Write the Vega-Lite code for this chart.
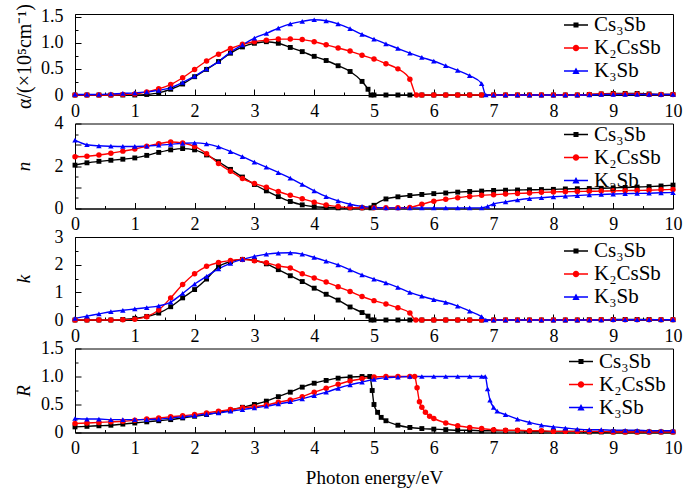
{
"$schema": "https://vega.github.io/schema/vega-lite/v6.json",
"autosize": {"type": "none"},
"padding": {"left": 75, "top": 14, "right": 608, "bottom": 480},
"background": "white",
"spacing": 28.5,
"bounds": "flush",
"resolve": {"legend": {"color": "independent", "shape": "independent"}},
"config": {
  "view": {"stroke": "black", "strokeWidth": 1},
  "axis": {"domainColor": "black", "tickColor": "black", "labelColor": "black", "labelFont": "Liberation Serif", "labelFontSize": 18, "titleFont": "Liberation Serif", "titleFontSize": 19, "titleFontWeight": "normal", "titleColor": "black", "grid": false, "labelFlush": false, "labelOverlap": false, "tickWidth": 1, "domainWidth": 1},
  "legend": {"orient": "none", "legendX": 489, "legendY": -1, "title": null, "labelFont": "Liberation Serif", "labelFontSize": 21, "labelColor": "black", "symbolSize": 576, "symbolOpacity": 1, "symbolStrokeWidth": 0, "rowPadding": 1, "labelOffset": 6, "padding": 0}
},
"datasets": {
"alpha": [
{"x":0,"Cs3Sb":0,"K2CsSb":0,"K3Sb":0.01},{"x":0.2,"Cs3Sb":0,"K2CsSb":0,"K3Sb":0.01},{"x":0.4,"Cs3Sb":0,"K2CsSb":0,"K3Sb":0.01},{"x":0.6,"Cs3Sb":0,"K2CsSb":0,"K3Sb":0.02},{"x":0.8,"Cs3Sb":0,"K2CsSb":0.01,"K3Sb":0.03},{"x":1.0,"Cs3Sb":0,"K2CsSb":0.02,"K3Sb":0.04},{"x":1.2,"Cs3Sb":0.01,"K2CsSb":0.06,"K3Sb":0.06},{"x":1.4,"Cs3Sb":0.04,"K2CsSb":0.12,"K3Sb":0.09},{"x":1.6,"Cs3Sb":0.11,"K2CsSb":0.2,"K3Sb":0.14},{"x":1.8,"Cs3Sb":0.21,"K2CsSb":0.33,"K3Sb":0.24},{"x":2.0,"Cs3Sb":0.35,"K2CsSb":0.49,"K3Sb":0.36},{"x":2.2,"Cs3Sb":0.49,"K2CsSb":0.65,"K3Sb":0.5},{"x":2.4,"Cs3Sb":0.64,"K2CsSb":0.78,"K3Sb":0.64},{"x":2.6,"Cs3Sb":0.8,"K2CsSb":0.89,"K3Sb":0.82},{"x":2.8,"Cs3Sb":0.92,"K2CsSb":0.97,"K3Sb":0.96},{"x":3.0,"Cs3Sb":0.99,"K2CsSb":1.02,"K3Sb":1.09},{"x":3.2,"Cs3Sb":1.02,"K2CsSb":1.05,"K3Sb":1.18},{"x":3.4,"Cs3Sb":0.99,"K2CsSb":1.07,"K3Sb":1.28},{"x":3.6,"Cs3Sb":0.91,"K2CsSb":1.07,"K3Sb":1.36},{"x":3.8,"Cs3Sb":0.83,"K2CsSb":1.06,"K3Sb":1.41},{"x":4.0,"Cs3Sb":0.74,"K2CsSb":1.02,"K3Sb":1.44},{"x":4.2,"Cs3Sb":0.66,"K2CsSb":0.96,"K3Sb":1.42},{"x":4.4,"Cs3Sb":0.56,"K2CsSb":0.9,"K3Sb":1.36},{"x":4.6,"Cs3Sb":0.45,"K2CsSb":0.84,"K3Sb":1.27},{"x":4.8,"Cs3Sb":0.26,"K2CsSb":0.76,"K3Sb":1.16},{"x":4.9,"Cs3Sb":0.11},{"x":4.95,"Cs3Sb":0},{"x":5.0,"Cs3Sb":0,"K2CsSb":0.69,"K3Sb":1.07},{"x":5.2,"Cs3Sb":0,"K2CsSb":0.6,"K3Sb":0.98},{"x":5.4,"Cs3Sb":0,"K2CsSb":0.5,"K3Sb":0.89},{"x":5.6,"Cs3Sb":0,"K2CsSb":0.3,"K3Sb":0.8},{"x":5.71,"K2CsSb":0},{"x":5.8,"Cs3Sb":0,"K2CsSb":0,"K3Sb":0.72},{"x":6.0,"Cs3Sb":0,"K2CsSb":0,"K3Sb":0.65},{"x":6.2,"Cs3Sb":0,"K2CsSb":0,"K3Sb":0.56},{"x":6.4,"Cs3Sb":0,"K2CsSb":0,"K3Sb":0.47},{"x":6.6,"Cs3Sb":0,"K2CsSb":0,"K3Sb":0.37},{"x":6.8,"Cs3Sb":0,"K2CsSb":0,"K3Sb":0.22},{"x":6.87,"K3Sb":0},{"x":7.0,"Cs3Sb":0,"K2CsSb":0,"K3Sb":0},{"x":7.2,"Cs3Sb":0,"K2CsSb":0,"K3Sb":0},{"x":7.4,"Cs3Sb":0,"K2CsSb":0,"K3Sb":0},{"x":7.6,"Cs3Sb":0,"K2CsSb":0,"K3Sb":0},{"x":7.8,"Cs3Sb":0,"K2CsSb":0,"K3Sb":0},{"x":8.0,"Cs3Sb":0,"K2CsSb":0,"K3Sb":0},{"x":8.2,"Cs3Sb":0,"K2CsSb":0,"K3Sb":0},{"x":8.4,"Cs3Sb":0,"K2CsSb":0,"K3Sb":0},{"x":8.6,"Cs3Sb":0.01,"K2CsSb":0.01,"K3Sb":0},{"x":8.8,"Cs3Sb":0.02,"K2CsSb":0.02,"K3Sb":0.01},{"x":9.0,"Cs3Sb":0.03,"K2CsSb":0.02,"K3Sb":0.01},{"x":9.2,"Cs3Sb":0.03,"K2CsSb":0.02,"K3Sb":0.01},{"x":9.4,"Cs3Sb":0.03,"K2CsSb":0.02,"K3Sb":0.01},{"x":9.6,"Cs3Sb":0.02,"K2CsSb":0.01,"K3Sb":0.01},{"x":9.8,"Cs3Sb":0.01,"K2CsSb":0.01,"K3Sb":0.01},{"x":10,"Cs3Sb":0.01,"K2CsSb":0.01,"K3Sb":0.01}
],
"n": [
{"x":0,"Cs3Sb":2.04,"K2CsSb":2.43,"K3Sb":3.22},{"x":0.2,"Cs3Sb":2.15,"K2CsSb":2.46,"K3Sb":3.0},{"x":0.4,"Cs3Sb":2.22,"K2CsSb":2.52,"K3Sb":2.95},{"x":0.6,"Cs3Sb":2.27,"K2CsSb":2.6,"K3Sb":2.93},{"x":0.8,"Cs3Sb":2.32,"K2CsSb":2.7,"K3Sb":2.92},{"x":1.0,"Cs3Sb":2.38,"K2CsSb":2.8,"K3Sb":2.92},{"x":1.2,"Cs3Sb":2.5,"K2CsSb":2.93,"K3Sb":2.94},{"x":1.4,"Cs3Sb":2.64,"K2CsSb":3.05,"K3Sb":2.98},{"x":1.6,"Cs3Sb":2.76,"K2CsSb":3.13,"K3Sb":3.02},{"x":1.8,"Cs3Sb":2.82,"K2CsSb":3.08,"K3Sb":3.07},{"x":2.0,"Cs3Sb":2.76,"K2CsSb":2.92,"K3Sb":3.09},{"x":2.2,"Cs3Sb":2.52,"K2CsSb":2.58,"K3Sb":3.04},{"x":2.4,"Cs3Sb":2.2,"K2CsSb":2.12,"K3Sb":2.9},{"x":2.6,"Cs3Sb":1.84,"K2CsSb":1.75,"K3Sb":2.68},{"x":2.8,"Cs3Sb":1.48,"K2CsSb":1.41,"K3Sb":2.44},{"x":3.0,"Cs3Sb":1.13,"K2CsSb":1.18,"K3Sb":2.18},{"x":3.2,"Cs3Sb":0.83,"K2CsSb":1.0,"K3Sb":1.95},{"x":3.4,"Cs3Sb":0.56,"K2CsSb":0.8,"K3Sb":1.69},{"x":3.6,"Cs3Sb":0.33,"K2CsSb":0.62,"K3Sb":1.43},{"x":3.8,"Cs3Sb":0.17,"K2CsSb":0.46,"K3Sb":1.13},{"x":4.0,"Cs3Sb":0.08,"K2CsSb":0.3,"K3Sb":0.83},{"x":4.2,"Cs3Sb":0.05,"K2CsSb":0.17,"K3Sb":0.56},{"x":4.4,"Cs3Sb":0.03,"K2CsSb":0.09,"K3Sb":0.36},{"x":4.6,"Cs3Sb":0.03,"K2CsSb":0.05,"K3Sb":0.2},{"x":4.8,"Cs3Sb":0.03,"K2CsSb":0.03,"K3Sb":0.1},{"x":4.95,"Cs3Sb":0.03},{"x":5.0,"Cs3Sb":0.15,"K2CsSb":0.03,"K3Sb":0.05},{"x":5.2,"Cs3Sb":0.45,"K2CsSb":0.03,"K3Sb":0.03},{"x":5.4,"Cs3Sb":0.55,"K2CsSb":0.03,"K3Sb":0.03},{"x":5.6,"Cs3Sb":0.61,"K2CsSb":0.05,"K3Sb":0.03},{"x":5.8,"Cs3Sb":0.66,"K2CsSb":0.2,"K3Sb":0.03},{"x":6.0,"Cs3Sb":0.7,"K2CsSb":0.34,"K3Sb":0.03},{"x":6.2,"Cs3Sb":0.73,"K2CsSb":0.43,"K3Sb":0.03},{"x":6.4,"Cs3Sb":0.77,"K2CsSb":0.51,"K3Sb":0.03},{"x":6.6,"Cs3Sb":0.8,"K2CsSb":0.57,"K3Sb":0.03},{"x":6.8,"Cs3Sb":0.82,"K2CsSb":0.62,"K3Sb":0.03},{"x":6.9,"K3Sb":0.1},{"x":7.0,"Cs3Sb":0.85,"K2CsSb":0.65,"K3Sb":0.22},{"x":7.2,"Cs3Sb":0.86,"K2CsSb":0.68,"K3Sb":0.31},{"x":7.4,"Cs3Sb":0.87,"K2CsSb":0.71,"K3Sb":0.4},{"x":7.6,"Cs3Sb":0.88,"K2CsSb":0.73,"K3Sb":0.47},{"x":7.8,"Cs3Sb":0.89,"K2CsSb":0.76,"K3Sb":0.51},{"x":8.0,"Cs3Sb":0.9,"K2CsSb":0.78,"K3Sb":0.55},{"x":8.2,"Cs3Sb":0.92,"K2CsSb":0.79,"K3Sb":0.58},{"x":8.4,"Cs3Sb":0.93,"K2CsSb":0.8,"K3Sb":0.61},{"x":8.6,"Cs3Sb":0.94,"K2CsSb":0.81,"K3Sb":0.64},{"x":8.8,"Cs3Sb":0.95,"K2CsSb":0.82,"K3Sb":0.66},{"x":9.0,"Cs3Sb":0.97,"K2CsSb":0.83,"K3Sb":0.68},{"x":9.2,"Cs3Sb":0.99,"K2CsSb":0.84,"K3Sb":0.7},{"x":9.4,"Cs3Sb":1.01,"K2CsSb":0.85,"K3Sb":0.71},{"x":9.6,"Cs3Sb":1.03,"K2CsSb":0.86,"K3Sb":0.72},{"x":9.8,"Cs3Sb":1.06,"K2CsSb":0.88,"K3Sb":0.74},{"x":10,"Cs3Sb":1.1,"K2CsSb":0.9,"K3Sb":0.75}
],
"k": [
{"x":0,"Cs3Sb":0,"K2CsSb":0,"K3Sb":0.06},{"x":0.2,"Cs3Sb":0,"K2CsSb":0,"K3Sb":0.14},{"x":0.4,"Cs3Sb":0,"K2CsSb":0,"K3Sb":0.22},{"x":0.6,"Cs3Sb":0,"K2CsSb":0,"K3Sb":0.3},{"x":0.8,"Cs3Sb":0.02,"K2CsSb":0.01,"K3Sb":0.35},{"x":1.0,"Cs3Sb":0.06,"K2CsSb":0.03,"K3Sb":0.4},{"x":1.2,"Cs3Sb":0.13,"K2CsSb":0.12,"K3Sb":0.45},{"x":1.4,"Cs3Sb":0.25,"K2CsSb":0.36,"K3Sb":0.51},{"x":1.6,"Cs3Sb":0.48,"K2CsSb":0.8,"K3Sb":0.65},{"x":1.8,"Cs3Sb":0.8,"K2CsSb":1.28,"K3Sb":0.96},{"x":2.0,"Cs3Sb":1.1,"K2CsSb":1.67,"K3Sb":1.3},{"x":2.2,"Cs3Sb":1.48,"K2CsSb":1.94,"K3Sb":1.58},{"x":2.4,"Cs3Sb":1.93,"K2CsSb":2.08,"K3Sb":1.85},{"x":2.6,"Cs3Sb":2.11,"K2CsSb":2.15,"K3Sb":2.05},{"x":2.8,"Cs3Sb":2.19,"K2CsSb":2.19,"K3Sb":2.19},{"x":3.0,"Cs3Sb":2.16,"K2CsSb":2.14,"K3Sb":2.3},{"x":3.2,"Cs3Sb":2.03,"K2CsSb":2.07,"K3Sb":2.38},{"x":3.4,"Cs3Sb":1.82,"K2CsSb":1.95,"K3Sb":2.42},{"x":3.6,"Cs3Sb":1.6,"K2CsSb":1.88,"K3Sb":2.43},{"x":3.8,"Cs3Sb":1.39,"K2CsSb":1.67,"K3Sb":2.38},{"x":4.0,"Cs3Sb":1.15,"K2CsSb":1.52,"K3Sb":2.26},{"x":4.2,"Cs3Sb":0.93,"K2CsSb":1.37,"K3Sb":2.13},{"x":4.4,"Cs3Sb":0.72,"K2CsSb":1.2,"K3Sb":1.99},{"x":4.6,"Cs3Sb":0.47,"K2CsSb":1.03,"K3Sb":1.81},{"x":4.8,"Cs3Sb":0.27,"K2CsSb":0.85,"K3Sb":1.63},{"x":4.9,"Cs3Sb":0.14},{"x":4.95,"Cs3Sb":0},{"x":5.0,"Cs3Sb":0,"K2CsSb":0.7,"K3Sb":1.48},{"x":5.2,"Cs3Sb":0,"K2CsSb":0.58,"K3Sb":1.34},{"x":5.4,"Cs3Sb":0,"K2CsSb":0.44,"K3Sb":1.18},{"x":5.6,"Cs3Sb":0,"K2CsSb":0.25,"K3Sb":1.0},{"x":5.7,"K2CsSb":0},{"x":5.8,"Cs3Sb":0,"K2CsSb":0,"K3Sb":0.86},{"x":6.0,"Cs3Sb":0,"K2CsSb":0,"K3Sb":0.74},{"x":6.2,"Cs3Sb":0,"K2CsSb":0,"K3Sb":0.64},{"x":6.4,"Cs3Sb":0,"K2CsSb":0,"K3Sb":0.5},{"x":6.6,"Cs3Sb":0,"K2CsSb":0,"K3Sb":0.32},{"x":6.8,"Cs3Sb":0,"K2CsSb":0,"K3Sb":0.12},{"x":6.87,"K3Sb":0},{"x":7.0,"Cs3Sb":0,"K2CsSb":0,"K3Sb":0},{"x":7.2,"Cs3Sb":0,"K2CsSb":0,"K3Sb":0},{"x":7.4,"Cs3Sb":0,"K2CsSb":0,"K3Sb":0},{"x":7.6,"Cs3Sb":0,"K2CsSb":0,"K3Sb":0},{"x":7.8,"Cs3Sb":0,"K2CsSb":0,"K3Sb":0},{"x":8.0,"Cs3Sb":0,"K2CsSb":0,"K3Sb":0},{"x":8.2,"Cs3Sb":0,"K2CsSb":0,"K3Sb":0},{"x":8.4,"Cs3Sb":0,"K2CsSb":0,"K3Sb":0},{"x":8.6,"Cs3Sb":0.01,"K2CsSb":0,"K3Sb":0},{"x":8.8,"Cs3Sb":0.01,"K2CsSb":0.01,"K3Sb":0},{"x":9.0,"Cs3Sb":0.02,"K2CsSb":0.01,"K3Sb":0.01},{"x":9.2,"Cs3Sb":0.02,"K2CsSb":0.01,"K3Sb":0.01},{"x":9.4,"Cs3Sb":0.02,"K2CsSb":0.01,"K3Sb":0.01},{"x":9.6,"Cs3Sb":0.02,"K2CsSb":0.01,"K3Sb":0.01},{"x":9.8,"Cs3Sb":0.01,"K2CsSb":0.01,"K3Sb":0.01},{"x":10,"Cs3Sb":0.01,"K2CsSb":0.01,"K3Sb":0.01}
],
"R": [
{"x":0,"Cs3Sb":0.1,"K2CsSb":0.16,"K3Sb":0.25},{"x":0.2,"Cs3Sb":0.11,"K2CsSb":0.17,"K3Sb":0.24},{"x":0.4,"Cs3Sb":0.12,"K2CsSb":0.18,"K3Sb":0.24},{"x":0.6,"Cs3Sb":0.13,"K2CsSb":0.19,"K3Sb":0.23},{"x":0.8,"Cs3Sb":0.15,"K2CsSb":0.2,"K3Sb":0.23},{"x":1.0,"Cs3Sb":0.17,"K2CsSb":0.22,"K3Sb":0.23},{"x":1.2,"Cs3Sb":0.19,"K2CsSb":0.24,"K3Sb":0.23},{"x":1.4,"Cs3Sb":0.21,"K2CsSb":0.26,"K3Sb":0.24},{"x":1.6,"Cs3Sb":0.23,"K2CsSb":0.28,"K3Sb":0.26},{"x":1.8,"Cs3Sb":0.26,"K2CsSb":0.3,"K3Sb":0.28},{"x":2.0,"Cs3Sb":0.29,"K2CsSb":0.32,"K3Sb":0.3},{"x":2.2,"Cs3Sb":0.32,"K2CsSb":0.35,"K3Sb":0.33},{"x":2.4,"Cs3Sb":0.36,"K2CsSb":0.38,"K3Sb":0.35},{"x":2.6,"Cs3Sb":0.4,"K2CsSb":0.41,"K3Sb":0.38},{"x":2.8,"Cs3Sb":0.45,"K2CsSb":0.44,"K3Sb":0.41},{"x":3.0,"Cs3Sb":0.5,"K2CsSb":0.46,"K3Sb":0.44},{"x":3.2,"Cs3Sb":0.56,"K2CsSb":0.49,"K3Sb":0.47},{"x":3.4,"Cs3Sb":0.64,"K2CsSb":0.54,"K3Sb":0.51},{"x":3.6,"Cs3Sb":0.72,"K2CsSb":0.58,"K3Sb":0.55},{"x":3.8,"Cs3Sb":0.81,"K2CsSb":0.64,"K3Sb":0.6},{"x":4.0,"Cs3Sb":0.88,"K2CsSb":0.72,"K3Sb":0.66},{"x":4.2,"Cs3Sb":0.93,"K2CsSb":0.79,"K3Sb":0.72},{"x":4.4,"Cs3Sb":0.97,"K2CsSb":0.86,"K3Sb":0.79},{"x":4.6,"Cs3Sb":0.99,"K2CsSb":0.92,"K3Sb":0.85},{"x":4.8,"Cs3Sb":1.0,"K2CsSb":0.96,"K3Sb":0.9},{"x":4.93,"Cs3Sb":1.0},{"x":4.97,"Cs3Sb":0.75},{"x":5.0,"Cs3Sb":0.5,"K2CsSb":0.99,"K3Sb":0.95},{"x":5.06,"Cs3Sb":0.36},{"x":5.12,"Cs3Sb":0.27},{"x":5.2,"Cs3Sb":0.21,"K2CsSb":1.0,"K3Sb":0.98},{"x":5.4,"Cs3Sb":0.13,"K2CsSb":1.0,"K3Sb":0.99},{"x":5.6,"Cs3Sb":0.09,"K2CsSb":1.0,"K3Sb":1.0},{"x":5.68,"K2CsSb":1.0},{"x":5.72,"K2CsSb":0.8},{"x":5.76,"K2CsSb":0.55},{"x":5.8,"Cs3Sb":0.07,"K2CsSb":0.45,"K3Sb":1.0},{"x":5.86,"K2CsSb":0.36},{"x":5.93,"K2CsSb":0.29},{"x":6.0,"Cs3Sb":0.06,"K2CsSb":0.25,"K3Sb":1.0},{"x":6.2,"Cs3Sb":0.05,"K2CsSb":0.17,"K3Sb":1.0},{"x":6.4,"Cs3Sb":0.04,"K2CsSb":0.12,"K3Sb":1.0},{"x":6.6,"Cs3Sb":0.04,"K2CsSb":0.09,"K3Sb":1.0},{"x":6.8,"Cs3Sb":0.03,"K2CsSb":0.07,"K3Sb":1.0},{"x":6.86,"K3Sb":1.0},{"x":6.9,"K3Sb":0.78},{"x":6.94,"K3Sb":0.58},{"x":7.0,"Cs3Sb":0.03,"K2CsSb":0.05,"K3Sb":0.45},{"x":7.06,"K3Sb":0.38},{"x":7.2,"Cs3Sb":0.03,"K2CsSb":0.04,"K3Sb":0.32},{"x":7.4,"Cs3Sb":0.03,"K2CsSb":0.04,"K3Sb":0.24},{"x":7.6,"Cs3Sb":0.02,"K2CsSb":0.03,"K3Sb":0.18},{"x":7.8,"Cs3Sb":0.02,"K2CsSb":0.03,"K3Sb":0.13},{"x":8.0,"Cs3Sb":0.02,"K2CsSb":0.02,"K3Sb":0.1},{"x":8.2,"Cs3Sb":0.02,"K2CsSb":0.02,"K3Sb":0.08},{"x":8.4,"Cs3Sb":0.02,"K2CsSb":0.02,"K3Sb":0.06},{"x":8.6,"Cs3Sb":0.01,"K2CsSb":0.02,"K3Sb":0.05},{"x":8.8,"Cs3Sb":0.01,"K2CsSb":0.02,"K3Sb":0.05},{"x":9.0,"Cs3Sb":0.01,"K2CsSb":0.01,"K3Sb":0.04},{"x":9.2,"Cs3Sb":0.01,"K2CsSb":0.01,"K3Sb":0.04},{"x":9.4,"Cs3Sb":0.01,"K2CsSb":0.01,"K3Sb":0.04},{"x":9.6,"Cs3Sb":0.01,"K2CsSb":0.01,"K3Sb":0.03},{"x":9.8,"Cs3Sb":0.01,"K2CsSb":0.01,"K3Sb":0.03},{"x":10,"Cs3Sb":0.01,"K2CsSb":0.01,"K3Sb":0.03}
]
},
"vconcat": [
{
  "width": 598, "height": 81,
  "data": {"name": "alpha"},
  "transform": [{"fold": ["Cs3Sb","K2CsSb","K3Sb"], "as": ["s","y"]}, {"filter": "isValid(datum.y)"}],
  "layer": [
    {"mark": {"type": "point", "filled": true, "size": 0, "opacity": 1},
     "encoding": {
       "x": {"field": "x", "type": "quantitative", "scale": {"domain": [0,10], "nice": false}, "axis": null},
       "y": {"field": "y", "type": "quantitative", "scale": {"domain": [0,1.55], "nice": false, "zero": false}, "axis": null},
       "color": {"field": "s", "type": "nominal", "scale": {"domain": ["Cs3Sb","K2CsSb","K3Sb"], "range": ["#000000","#ff0000","#0000ff"]}, "legend": {"legendY": -1, "labelExpr": "replace(replace(datum.label,'3','₃'),'2','₂')"}},
       "shape": {"field": "s", "type": "nominal", "scale": {"domain": ["Cs3Sb","K2CsSb","K3Sb"], "range": ["M-1,-0.06H1V0.06H-1ZM-0.21,-0.21H0.21V0.21H-0.21Z","M-1,-0.06H1V0.06H-1ZM0.27,0A0.27,0.27,0,1,1,-0.27,0A0.27,0.27,0,1,1,0.27,0Z","M-1,-0.06H1V0.06H-1ZM0,-0.3L0.3,0.24H-0.3Z"]}, "legend": {"legendY": -1, "labelExpr": "replace(replace(datum.label,'3','₃'),'2','₂')"}}
     }},
    {"mark": {"type": "line", "strokeWidth": 1.4, "interpolate": "monotone"},
     "encoding": {
       "x": {"field": "x", "type": "quantitative", "scale": {"domain": [0,10], "nice": false}, "axis": {"orient": "bottom", "values": [0.5,1.5,2.5,3.5,4.5,5.5,6.5,7.5,8.5,9.5], "labels": false, "domain": false, "tickSize": -3, "title": null}},
       "y": {"field": "y", "type": "quantitative", "scale": {"domain": [0,1.55], "nice": false, "zero": false}, "axis": {"orient": "left", "values": [0.25,0.75,1.25], "labels": false, "domain": false, "tickSize": -3, "title": null}},
       "color": {"field": "s", "type": "nominal", "scale": {"domain": ["Cs3Sb","K2CsSb","K3Sb"], "range": ["#000000","#ff0000","#0000ff"]}, "legend": {"legendY": -1, "labelExpr": "replace(replace(datum.label,'3','₃'),'2','₂')"}}
     }},
    {"transform": [{"filter": "datum.s=='Cs3Sb'"}],
     "mark": {"type": "point", "filled": true, "size": 24, "shape": "square", "color": "#000000", "opacity": 1},
     "encoding": {
       "x": {"field": "x", "type": "quantitative", "scale": {"domain": [0,10], "nice": false}, "axis": {"orient": "bottom", "values": [0,1,2,3,4,5,6,7,8,9,10], "format": "d", "tickSize": -6, "labelPadding": 13, "title": null}},
       "y": {"field": "y", "type": "quantitative", "scale": {"domain": [0,1.55], "nice": false, "zero": false}, "axis": {"orient": "left", "values": [0,0.5,1,1.5], "labelExpr": "datum.value==0?'0':format(datum.value,'.1f')", "tickSize": -6, "labelPadding": 18, "title": "α/(×10⁵cm⁻¹)", "titleFontSize": 20, "titleX": -51, "titleY": 42, "titleAngle": -90, "titleAlign": "center", "titleBaseline": "middle"}}
     }},
    {"transform": [{"filter": "datum.s=='K2CsSb'"}],
     "mark": {"type": "point", "filled": true, "size": 30, "shape": "circle", "color": "#ff0000", "opacity": 1},
     "encoding": {
       "x": {"field": "x", "type": "quantitative", "scale": {"domain": [0,10], "nice": false}, "axis": null},
       "y": {"field": "y", "type": "quantitative", "scale": {"domain": [0,1.55], "nice": false, "zero": false}, "axis": null}
     }},
    {"transform": [{"filter": "datum.s=='K3Sb'"}],
     "mark": {"type": "point", "filled": true, "size": 30, "shape": "triangle-up", "color": "#0000ff", "opacity": 1},
     "encoding": {
       "x": {"field": "x", "type": "quantitative", "scale": {"domain": [0,10], "nice": false}, "axis": null},
       "y": {"field": "y", "type": "quantitative", "scale": {"domain": [0,1.55], "nice": false, "zero": false}, "axis": null}
     }}
  ],
  "resolve": {"axis": {"x": "independent", "y": "independent"}}
},
{
  "width": 598, "height": 85,
  "data": {"name": "n"},
  "transform": [{"fold": ["Cs3Sb","K2CsSb","K3Sb"], "as": ["s","y"]}, {"filter": "isValid(datum.y)"}],
  "layer": [
    {"mark": {"type": "point", "filled": true, "size": 0, "opacity": 1},
     "encoding": {
       "x": {"field": "x", "type": "quantitative", "scale": {"domain": [0,10], "nice": false}, "axis": null},
       "y": {"field": "y", "type": "quantitative", "scale": {"domain": [0,4], "nice": false, "zero": false}, "axis": null},
       "color": {"field": "s", "type": "nominal", "scale": {"domain": ["Cs3Sb","K2CsSb","K3Sb"], "range": ["#000000","#ff0000","#0000ff"]}, "legend": {"legendY": -1, "labelExpr": "replace(replace(datum.label,'3','₃'),'2','₂')"}},
       "shape": {"field": "s", "type": "nominal", "scale": {"domain": ["Cs3Sb","K2CsSb","K3Sb"], "range": ["M-1,-0.06H1V0.06H-1ZM-0.21,-0.21H0.21V0.21H-0.21Z","M-1,-0.06H1V0.06H-1ZM0.27,0A0.27,0.27,0,1,1,-0.27,0A0.27,0.27,0,1,1,0.27,0Z","M-1,-0.06H1V0.06H-1ZM0,-0.3L0.3,0.24H-0.3Z"]}, "legend": {"legendY": -1, "labelExpr": "replace(replace(datum.label,'3','₃'),'2','₂')"}}
     }},
    {"mark": {"type": "line", "strokeWidth": 1.4, "interpolate": "monotone"},
     "encoding": {
       "x": {"field": "x", "type": "quantitative", "scale": {"domain": [0,10], "nice": false}, "axis": {"orient": "bottom", "values": [0.5,1.5,2.5,3.5,4.5,5.5,6.5,7.5,8.5,9.5], "labels": false, "domain": false, "tickSize": -3, "title": null}},
       "y": {"field": "y", "type": "quantitative", "scale": {"domain": [0,4], "nice": false, "zero": false}, "axis": {"orient": "left", "values": [0.5,1.5,2.5,3.5], "labels": false, "domain": false, "tickSize": -3, "title": null}},
       "color": {"field": "s", "type": "nominal", "scale": {"domain": ["Cs3Sb","K2CsSb","K3Sb"], "range": ["#000000","#ff0000","#0000ff"]}, "legend": {"legendY": -1, "labelExpr": "replace(replace(datum.label,'3','₃'),'2','₂')"}}
     }},
    {"transform": [{"filter": "datum.s=='Cs3Sb'"}],
     "mark": {"type": "point", "filled": true, "size": 24, "shape": "square", "color": "#000000", "opacity": 1},
     "encoding": {
       "x": {"field": "x", "type": "quantitative", "scale": {"domain": [0,10], "nice": false}, "axis": {"orient": "bottom", "values": [0,1,2,3,4,5,6,7,8,9,10], "format": "d", "tickSize": -6, "labelPadding": 13, "title": null}},
       "y": {"field": "y", "type": "quantitative", "scale": {"domain": [0,4], "nice": false, "zero": false}, "axis": {"orient": "left", "values": [0,1,2,3,4], "labelExpr": "datum.value%2==0?datum.label:''", "tickSize": -6, "labelPadding": 18, "title": "n", "titleFontStyle": "italic", "titleX": -52, "titleY": 42.5, "titleAngle": -90, "titleAlign": "center", "titleBaseline": "middle"}}
     }},
    {"transform": [{"filter": "datum.s=='K2CsSb'"}],
     "mark": {"type": "point", "filled": true, "size": 30, "shape": "circle", "color": "#ff0000", "opacity": 1},
     "encoding": {
       "x": {"field": "x", "type": "quantitative", "scale": {"domain": [0,10], "nice": false}, "axis": null},
       "y": {"field": "y", "type": "quantitative", "scale": {"domain": [0,4], "nice": false, "zero": false}, "axis": null}
     }},
    {"transform": [{"filter": "datum.s=='K3Sb'"}],
     "mark": {"type": "point", "filled": true, "size": 30, "shape": "triangle-up", "color": "#0000ff", "opacity": 1},
     "encoding": {
       "x": {"field": "x", "type": "quantitative", "scale": {"domain": [0,10], "nice": false}, "axis": null},
       "y": {"field": "y", "type": "quantitative", "scale": {"domain": [0,4], "nice": false, "zero": false}, "axis": null}
     }}
  ],
  "resolve": {"axis": {"x": "independent", "y": "independent"}}
},
{
  "width": 598, "height": 83,
  "data": {"name": "k"},
  "transform": [{"fold": ["Cs3Sb","K2CsSb","K3Sb"], "as": ["s","y"]}, {"filter": "isValid(datum.y)"}],
  "layer": [
    {"mark": {"type": "point", "filled": true, "size": 0, "opacity": 1},
     "encoding": {
       "x": {"field": "x", "type": "quantitative", "scale": {"domain": [0,10], "nice": false}, "axis": null},
       "y": {"field": "y", "type": "quantitative", "scale": {"domain": [0,3], "nice": false, "zero": false}, "axis": null},
       "color": {"field": "s", "type": "nominal", "scale": {"domain": ["Cs3Sb","K2CsSb","K3Sb"], "range": ["#000000","#ff0000","#0000ff"]}, "legend": {"legendY": 2, "labelExpr": "replace(replace(datum.label,'3','₃'),'2','₂')"}},
       "shape": {"field": "s", "type": "nominal", "scale": {"domain": ["Cs3Sb","K2CsSb","K3Sb"], "range": ["M-1,-0.06H1V0.06H-1ZM-0.21,-0.21H0.21V0.21H-0.21Z","M-1,-0.06H1V0.06H-1ZM0.27,0A0.27,0.27,0,1,1,-0.27,0A0.27,0.27,0,1,1,0.27,0Z","M-1,-0.06H1V0.06H-1ZM0,-0.3L0.3,0.24H-0.3Z"]}, "legend": {"legendY": 2, "labelExpr": "replace(replace(datum.label,'3','₃'),'2','₂')"}}
     }},
    {"mark": {"type": "line", "strokeWidth": 1.4, "interpolate": "monotone"},
     "encoding": {
       "x": {"field": "x", "type": "quantitative", "scale": {"domain": [0,10], "nice": false}, "axis": {"orient": "bottom", "values": [0.5,1.5,2.5,3.5,4.5,5.5,6.5,7.5,8.5,9.5], "labels": false, "domain": false, "tickSize": -3, "title": null}},
       "y": {"field": "y", "type": "quantitative", "scale": {"domain": [0,3], "nice": false, "zero": false}, "axis": {"orient": "left", "values": [0.5,1.5,2.5], "labels": false, "domain": false, "tickSize": -3, "title": null}},
       "color": {"field": "s", "type": "nominal", "scale": {"domain": ["Cs3Sb","K2CsSb","K3Sb"], "range": ["#000000","#ff0000","#0000ff"]}, "legend": {"legendY": 2, "labelExpr": "replace(replace(datum.label,'3','₃'),'2','₂')"}}
     }},
    {"transform": [{"filter": "datum.s=='Cs3Sb'"}],
     "mark": {"type": "point", "filled": true, "size": 24, "shape": "square", "color": "#000000", "opacity": 1},
     "encoding": {
       "x": {"field": "x", "type": "quantitative", "scale": {"domain": [0,10], "nice": false}, "axis": {"orient": "bottom", "values": [0,1,2,3,4,5,6,7,8,9,10], "format": "d", "tickSize": -6, "labelPadding": 13, "title": null}},
       "y": {"field": "y", "type": "quantitative", "scale": {"domain": [0,3], "nice": false, "zero": false}, "axis": {"orient": "left", "values": [0,1,2,3], "format": "d", "tickSize": -6, "labelPadding": 18, "title": "k", "titleFontStyle": "italic", "titleX": -52, "titleY": 41.5, "titleAngle": -90, "titleAlign": "center", "titleBaseline": "middle"}}
     }},
    {"transform": [{"filter": "datum.s=='K2CsSb'"}],
     "mark": {"type": "point", "filled": true, "size": 30, "shape": "circle", "color": "#ff0000", "opacity": 1},
     "encoding": {
       "x": {"field": "x", "type": "quantitative", "scale": {"domain": [0,10], "nice": false}, "axis": null},
       "y": {"field": "y", "type": "quantitative", "scale": {"domain": [0,3], "nice": false, "zero": false}, "axis": null}
     }},
    {"transform": [{"filter": "datum.s=='K3Sb'"}],
     "mark": {"type": "point", "filled": true, "size": 30, "shape": "triangle-up", "color": "#0000ff", "opacity": 1},
     "encoding": {
       "x": {"field": "x", "type": "quantitative", "scale": {"domain": [0,10], "nice": false}, "axis": null},
       "y": {"field": "y", "type": "quantitative", "scale": {"domain": [0,3], "nice": false, "zero": false}, "axis": null}
     }}
  ],
  "resolve": {"axis": {"x": "independent", "y": "independent"}}
},
{
  "width": 598, "height": 84,
  "data": {"name": "R"},
  "transform": [{"fold": ["Cs3Sb","K2CsSb","K3Sb"], "as": ["s","y"]}, {"filter": "isValid(datum.y)"}],
  "layer": [
    {"mark": {"type": "point", "filled": true, "size": 0, "opacity": 1},
     "encoding": {
       "x": {"field": "x", "type": "quantitative", "scale": {"domain": [0,10], "nice": false}, "axis": null},
       "y": {"field": "y", "type": "quantitative", "scale": {"domain": [0,1.5], "nice": false, "zero": false}, "axis": null},
       "color": {"field": "s", "type": "nominal", "scale": {"domain": ["Cs3Sb","K2CsSb","K3Sb"], "range": ["#000000","#ff0000","#0000ff"]}, "legend": {"legendX": 494, "legendY": 1, "labelExpr": "replace(replace(datum.label,'3','₃'),'2','₂')"}},
       "shape": {"field": "s", "type": "nominal", "scale": {"domain": ["Cs3Sb","K2CsSb","K3Sb"], "range": ["M-1,-0.06H1V0.06H-1ZM-0.21,-0.21H0.21V0.21H-0.21Z","M-1,-0.06H1V0.06H-1ZM0.27,0A0.27,0.27,0,1,1,-0.27,0A0.27,0.27,0,1,1,0.27,0Z","M-1,-0.06H1V0.06H-1ZM0,-0.3L0.3,0.24H-0.3Z"]}, "legend": {"legendX": 494, "legendY": 1, "labelExpr": "replace(replace(datum.label,'3','₃'),'2','₂')"}}
     }},
    {"mark": {"type": "line", "strokeWidth": 1.4, "interpolate": "monotone"},
     "encoding": {
       "x": {"field": "x", "type": "quantitative", "scale": {"domain": [0,10], "nice": false}, "axis": {"orient": "bottom", "values": [0.5,1.5,2.5,3.5,4.5,5.5,6.5,7.5,8.5,9.5], "labels": false, "domain": false, "tickSize": -3, "title": null}},
       "y": {"field": "y", "type": "quantitative", "scale": {"domain": [0,1.5], "nice": false, "zero": false}, "axis": {"orient": "left", "values": [0.25,0.75,1.25], "labels": false, "domain": false, "tickSize": -3, "title": null}},
       "color": {"field": "s", "type": "nominal", "scale": {"domain": ["Cs3Sb","K2CsSb","K3Sb"], "range": ["#000000","#ff0000","#0000ff"]}, "legend": {"legendX": 494, "legendY": 1, "labelExpr": "replace(replace(datum.label,'3','₃'),'2','₂')"}}
     }},
    {"transform": [{"filter": "datum.s=='Cs3Sb'"}],
     "mark": {"type": "point", "filled": true, "size": 24, "shape": "square", "color": "#000000", "opacity": 1},
     "encoding": {
       "x": {"field": "x", "type": "quantitative", "scale": {"domain": [0,10], "nice": false}, "axis": {"orient": "bottom", "values": [0,1,2,3,4,5,6,7,8,9,10], "format": "d", "tickSize": -6, "labelPadding": 13, "title": "Photon energy/eV", "titleX": 299, "titleY": 44.5, "titleAlign": "center", "titleBaseline": "middle", "titleAngle": 0}},
       "y": {"field": "y", "type": "quantitative", "scale": {"domain": [0,1.5], "nice": false, "zero": false}, "axis": {"orient": "left", "values": [0,0.5,1,1.5], "labelExpr": "datum.value==0?'0':format(datum.value,'.1f')", "tickSize": -6, "labelPadding": 18, "title": "R", "titleFontStyle": "italic", "titleX": -52, "titleY": 42, "titleAngle": -90, "titleAlign": "center", "titleBaseline": "middle"}}
     }},
    {"transform": [{"filter": "datum.s=='K2CsSb'"}],
     "mark": {"type": "point", "filled": true, "size": 30, "shape": "circle", "color": "#ff0000", "opacity": 1},
     "encoding": {
       "x": {"field": "x", "type": "quantitative", "scale": {"domain": [0,10], "nice": false}, "axis": null},
       "y": {"field": "y", "type": "quantitative", "scale": {"domain": [0,1.5], "nice": false, "zero": false}, "axis": null}
     }},
    {"transform": [{"filter": "datum.s=='K3Sb'"}],
     "mark": {"type": "point", "filled": true, "size": 30, "shape": "triangle-up", "color": "#0000ff", "opacity": 1},
     "encoding": {
       "x": {"field": "x", "type": "quantitative", "scale": {"domain": [0,10], "nice": false}, "axis": null},
       "y": {"field": "y", "type": "quantitative", "scale": {"domain": [0,1.5], "nice": false, "zero": false}, "axis": null}
     }}
  ],
  "resolve": {"axis": {"x": "independent", "y": "independent"}}
}
]
}
